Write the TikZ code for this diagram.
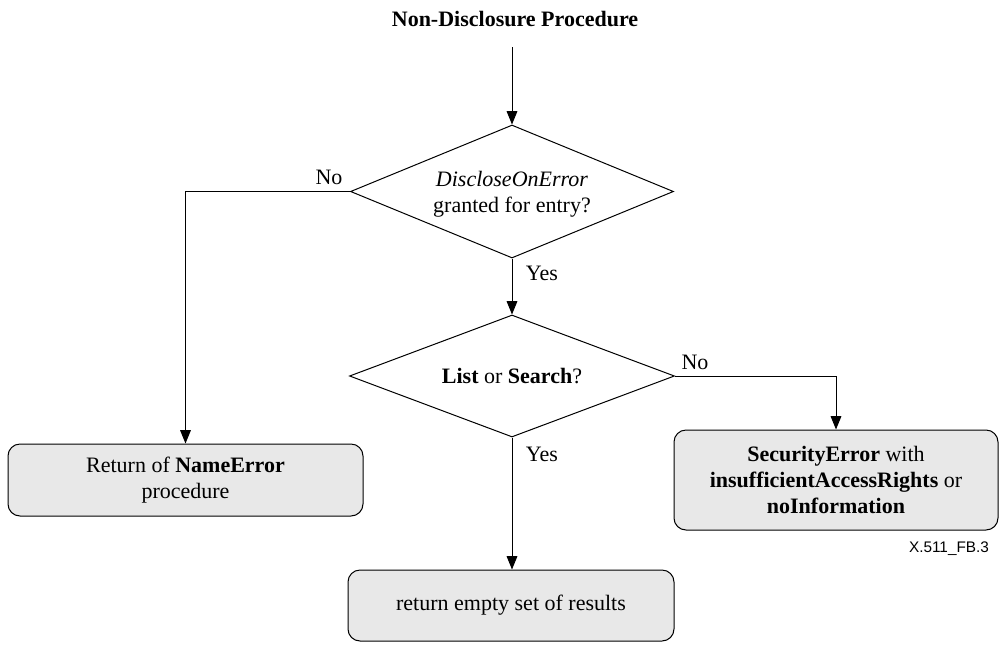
\documentclass[tikz,border=0pt]{standalone}
\usepackage{fontspec}
\setmainfont{Liberation Serif}
\newfontfamily\labelfont{Liberation Sans}
\usetikzlibrary{shapes.geometric,arrows.meta}
\definecolor{boxgray}{RGB}{232,232,232}
\begin{document}
\begin{tikzpicture}[x=0.75pt,y=-0.75pt,
  every node/.style={font=\fontsize{16.5}{19.5}\selectfont},
  dec/.style={draw, diamond, inner sep=0pt, line width=0.75pt},
  proc/.style={draw, rounded corners=9pt, fill=boxgray, align=center, inner sep=0pt, line width=0.75pt},
  lbl/.style={inner sep=0pt},
  txt/.style={inner sep=0pt, align=center},
  conn/.style={line width=0.75pt, -{Triangle[width=8pt,length=10pt]}},
  ]
\useasboundingbox (0,0) rectangle (1001,644);

\node[lbl, font={\fontsize{16.5}{19.5}\selectfont\bfseries}] (title) at (515,19) {Non-Disclosure Procedure};
\coordinate (start) at (512,47);

\node[dec, minimum width=242.25pt, minimum height=99.75pt] (d1) at (512,191.5) {};
\node[txt] (d1t) at (512,194) {\textit{DiscloseOnError}\\granted for entry?};
\node[dec, minimum width=243.75pt, minimum height=91.5pt] (d2) at (512,376) {};
\node[txt] (d2t) at (512,376) {\textbf{List} or \textbf{Search}?};

\node[proc, minimum width=266.25pt, minimum height=54pt] (b1) at (185.5,480)
  {Return of \textbf{NameError}\\procedure};
\node[proc, minimum width=243pt, minimum height=75pt] (b2) at (836,480)
  {\textbf{SecurityError} with\\\textbf{insufficientAccessRights} or\\\textbf{noInformation}};
\node[proc, minimum width=244.5pt, minimum height=53.25pt] (b3) at (511,605.5)
  {return empty set of results};

\draw[conn] (start) -- (d1.north);
\draw[conn] (d1.south) -- (d2.north);
\draw[conn] (d1.west) -| (b1.north);
\draw[conn] (d2.east) -| (b2.north);
\draw[conn] (d2.south) -- (d2.south |- b3.north);

\node[lbl] (no1) at (329,177) {No};
\node[lbl] (no2) at (695,362) {No};
\node[lbl] (yes1) at (542,273) {Yes};
\node[lbl] (yes2) at (542,454) {Yes};
\node[lbl, font={\labelfont\fontsize{11.5}{13}\selectfont}] (fig) at (949,549) {X.511\_FB.3};
\end{tikzpicture}
\end{document}
